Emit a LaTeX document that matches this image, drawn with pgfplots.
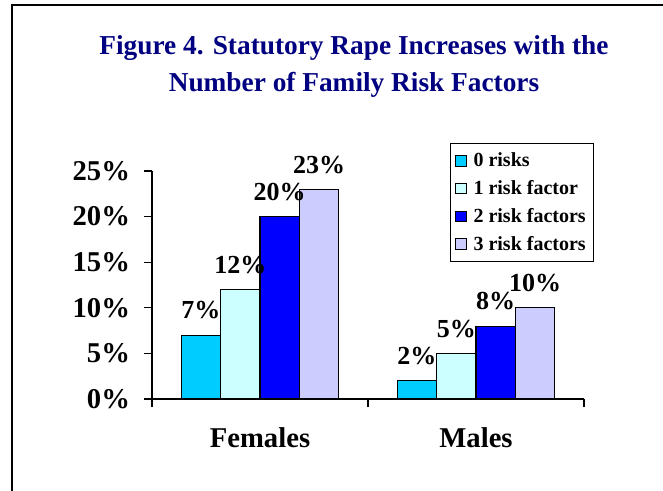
\documentclass[border=0pt]{standalone}
\usepackage{pgfplots}
\pgfplotsset{compat=1.18}
\usepackage{fontspec}
\setmainfont{Liberation Serif}
\definecolor{titleblue}{HTML}{000080}
\definecolor{cA}{HTML}{00CCFF}
\definecolor{cB}{HTML}{CCFFFF}
\definecolor{cC}{HTML}{0000FF}
\definecolor{cD}{HTML}{CCCCFF}
\begin{document}
\begin{tikzpicture}[x=0.75pt,y=0.75pt]
\useasboundingbox (0,0) rectangle (663,490);
\draw[line width=1.1pt] (12,-20) -- (12,485) -- (700,485);
\node[font=\fontsize{20.5}{24}\selectfont\bfseries, text=titleblue] at (354,442) {Figure 4. Statutory Rape Increases with the};
\node[font=\fontsize{20.5}{24}\selectfont\bfseries, text=titleblue] at (354,405) {Number of Family Risk Factors};
\begin{axis}[
  at={(114pt,68.25pt)}, anchor=south west,
  width=324pt, height=171pt, scale only axis,
  ybar=0pt, bar width=29.6pt,
  xmin=-0.5, xmax=1.5, ymin=0, ymax=25,
  axis lines*=left,
  axis line style={line width=0.8pt},
  xtick={0,1}, xticklabels={Females,Males},
  major x tick style={draw=none},
  minor xtick={-0.5,0.5,1.5},
  minor x tick style={line width=0.8pt},
  minor tick length=6pt,
  ytick={0,5,10,15,20,25},
  yticklabels={0\%,5\%,10\%,15\%,20\%,25\%},
  major tick length=6pt,
  tick align=outside,
  tick style={black, line width=0.8pt},
  yticklabel style={font=\fontsize{21.5}{24}\selectfont\bfseries, xshift=-7pt},
  xticklabel style={font=\fontsize{21.5}{24}\selectfont\bfseries, yshift=-12pt},
  nodes near coords={\pgfmathprintnumber[assume math mode=true]{\pgfplotspointmeta}\%},
  nodes near coords style={font=\fontsize{19.5}{22}\selectfont\bfseries, anchor=south, inner sep=0pt, yshift=11.5pt},
  every axis plot/.append style={draw=black, line width=0.8pt},
  legend style={at={(0.69,1.123)}, anchor=north west, draw=black, line width=0.8pt,
    font=\fontsize{15}{17}\selectfont\bfseries, row sep=4.8pt, inner xsep=3.5pt, inner ysep=5pt,
    cells={anchor=west}},
  legend image code/.code={\draw[#1, line width=0.6pt] (0pt,-4pt) rectangle (8pt,4pt); \path (11pt,0pt);},
  legend cell align=left,
]
\addplot[fill=cA] coordinates {(0,7) (1,2)};
\addplot[fill=cB] coordinates {(0,12) (1,5)};
\addplot[fill=cC] coordinates {(0,20) (1,8)};
\addplot[fill=cD] coordinates {(0,23) (1,10)};
\legend{0 risks,1 risk factor,2 risk factors,3 risk factors}
\end{axis}
\end{tikzpicture}
\end{document}
